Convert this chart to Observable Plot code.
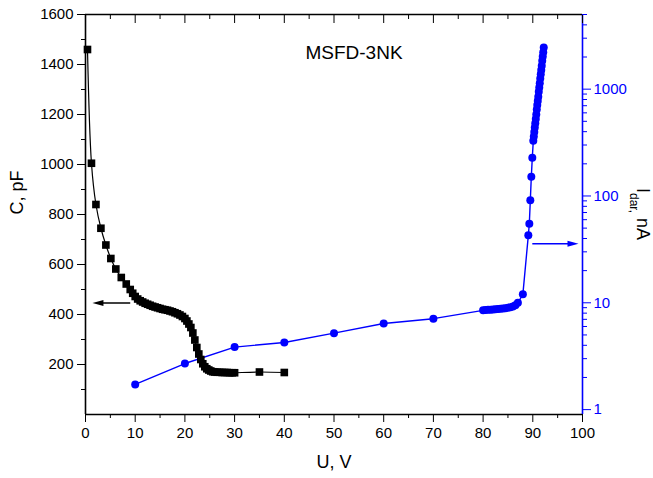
<!DOCTYPE html>
<html><head><meta charset="utf-8">
<script src="https://cdn.jsdelivr.net/npm/d3@7"></script>
<script src="https://cdn.jsdelivr.net/npm/@observablehq/plot@0.6"></script>
<style>
html,body{margin:0;padding:0;background:#fff;}
#chart{position:relative;width:653px;height:478px;font-family:"Liberation Sans",Arial,sans-serif;}
#chart svg{position:absolute;left:0;top:0;}
</style></head><body><div id="chart"></div>
<script>
// Capacitance C (pF) vs voltage U (V)
const capU = [0.4,1.2,2.1,3.1,4.1,5.1,6.1,7.2,8.2,9,9.5,10,10.5,11,11.5,12,12.5,13,13.5,14,14.5,15,15.5,16,16.5,17,17.5,18,18.5,19,19.5,20,20.4,20.8,21.2,21.6,22,22.4,22.8,23.2,23.6,24,24.4,24.8,25.2,25.6,26,26.5,27,27.5,28,28.5,29,29.5,30,35,40];
const capC = [1460,1005,840,745,678,624,582,548,522,500,485,472,462,455,450,445,441,437,433,430,427,424,421,419,417,414,411,407,403,398,392,384,374,362,348,326,298,268,242,220,203,191,183,178,174,171,170,169,169,168,168,168,167,167,167,170,168];
// Dark current I (nA) vs voltage U (V)
const curU = [10,20,30,40,50,60,70,80,80.5,81,81.5,82,82.5,83,83.5,84,84.5,85,85.5,86,86.5,87,88,89.1,89.3,89.5,89.7,89.9,90.1,90.2,90.3,90.4,90.5,90.6,90.7,90.8,90.9,91,91.1,91.2,91.3,91.4,91.5,91.6,91.7,91.8,91.9,92,92.1,92.2];
const curI = [1.72,2.7,3.85,4.25,5.2,6.4,7.1,8.5,8.55,8.6,8.62,8.65,8.7,8.75,8.8,8.85,8.9,9.0,9.1,9.25,9.5,10.0,12.0,42.8,55,91,151,228,328,361,398,437,480,525,580,645,710,775,850,945,1035,1135,1260,1380,1515,1660,1840,2020,2215,2450];
// Axis ticks
const xTicks = [0,10,20,30,40,50,60,70,80,90,100];
const xMinor = [5,15,25,35,45,55,65,75,85,95];
const cTicks = [200,400,600,800,1000,1200,1400,1600];
const cMinor = [100,300,500,700,900,1100,1300,1500];
const iTicks = [1,10,100,1000];
const iMinor = [2,3,4,5,6,7,8,9,20,30,40,50,60,70,80,90,200,300,400,500,600,700,800,900,2000,3000,4000,5000];
// Arrows (data coordinates)
const capArrowU = [9.1, 1.4];
const capArrowC = 446;
const curArrowU = [90, 99.2];
const curArrowI = 35.7;
const title = "MSFD-3NK";

const BLUE = "#0000ff";
const FONT = "'Liberation Sans', Arial, sans-serif";
const W = 653, H = 478;
const margins = {marginLeft:85, marginRight:71, marginTop:14, marginBottom:64};

const headRight = {draw(ctx){ctx.moveTo(0,0);ctx.lineTo(-11,-3);ctx.lineTo(-11,3);ctx.closePath();}};
const headLeft = {draw(ctx){ctx.moveTo(0,0);ctx.lineTo(11,-3);ctx.lineTo(11,3);ctx.closePath();}};

const capData = capU.map((u,i)=>({u, c:capC[i]}));
const curData = curU.map((u,i)=>({u, i:curI[i]}));

const bluePlot = Plot.plot({
  width:W, height:H, ...margins,
  style:{background:"white", fontFamily:FONT, fontSize:"15px", overflow:"visible"},
  x:{domain:[0,100], axis:null},
  y:{type:"log", domain:[0.9,5000]},
  marks:[
    Plot.axisY(iTicks, {anchor:"right", tickSize:8, tickPadding:3, color:BLUE, label:null, fontSize:15, tickFormat:d=>String(d)}),
    Plot.axisY(iMinor, {anchor:"right", tickSize:4, text:null, color:BLUE, label:null}),
    Plot.ruleX([100], {stroke:BLUE, strokeWidth:1.6}),
    Plot.line(curData, {x:"u", y:"i", stroke:BLUE, strokeWidth:1.4}),
    Plot.dot(curData, {x:"u", y:"i", fill:BLUE, r:4}),
    Plot.ruleY([{y:curArrowI, x1:curArrowU[0], x2:curArrowU[1]-1}], {y:"y", x1:"x1", x2:"x2", stroke:BLUE, strokeWidth:1.6}),
    Plot.dot([{x:curArrowU[1], y:curArrowI}], {x:"x", y:"y", symbol:headRight, fill:BLUE, stroke:"none"})
  ]
});

const blackPlot = Plot.plot({
  width:W, height:H, ...margins,
  style:{background:"transparent", fontFamily:FONT, fontSize:"15px", overflow:"visible"},
  x:{domain:[0,100]},
  y:{domain:[0,1600]},
  marks:[
    Plot.axisX(xTicks, {anchor:"bottom", tickSize:8, tickPadding:5, label:null, fontSize:15, tickFormat:d=>String(d)}),
    Plot.axisX(xMinor, {anchor:"bottom", tickSize:4, text:null, label:null}),
    Plot.axisX(xTicks, {anchor:"top", tickSize:8, dy:8, text:null, label:null}),
    Plot.axisX(xMinor, {anchor:"top", tickSize:4, dy:4, text:null, label:null}),
    Plot.axisY(cTicks, {anchor:"left", tickSize:8, tickPadding:4, label:null, fontSize:15, tickFormat:d=>String(d)}),
    Plot.axisY(cMinor, {anchor:"left", tickSize:4, text:null, label:null}),
    Plot.ruleX([0], {strokeWidth:1.6}),
    Plot.ruleY([0], {strokeWidth:1.6}),
    Plot.ruleY([1600], {strokeWidth:1.6}),
    Plot.line(capData, {x:"u", y:"c", stroke:"black", strokeWidth:1.2, curve:"catmull-rom"}),
    Plot.dot(capData, {x:"u", y:"c", symbol:"square", fill:"black", r:4.3}),
    Plot.ruleY([{y:capArrowC, x1:capArrowU[0], x2:capArrowU[1]+1}], {y:"y", x1:"x1", x2:"x2", stroke:"black", strokeWidth:1.6}),
    Plot.dot([{x:capArrowU[1], y:capArrowC}], {x:"x", y:"y", symbol:headLeft, fill:"black", stroke:"none"}),
    Plot.text(["C, pF"], {frameAnchor:"left", dx:-68, rotate:-90, fontSize:18}),
    Plot.text(["U, V"], {frameAnchor:"bottom", dy:53, fontSize:18}),
    Plot.text([title], {frameAnchor:"top", dx:20, dy:31, fontSize:19})
  ]
});

const chart = document.getElementById("chart");
chart.appendChild(bluePlot);
chart.appendChild(blackPlot);

// Right axis label with subscript
const lab = d3.select(bluePlot).append("text")
  .attr("transform", "translate(637,214) rotate(90)")
  .attr("text-anchor", "middle")
  .attr("font-family", FONT)
  .attr("fill", "black")
  .attr("font-size", 18);
lab.append("tspan").text("I");
lab.append("tspan").attr("font-size", 12).attr("dy", 7).text("dar");
lab.append("tspan").attr("font-size", 12).text(",");
lab.append("tspan").attr("dy", -7).text(" nA");
</script></body></html>
